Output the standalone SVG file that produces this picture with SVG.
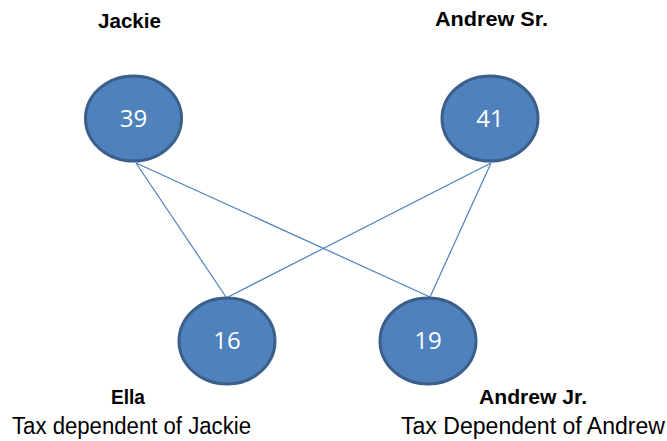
<svg xmlns="http://www.w3.org/2000/svg" width="667" height="441" viewBox="0 0 667 441">
<style>
.node{fill:#4F81BD;stroke:#3A5F8B;stroke-width:3}
.num{font-family:"Open Sans","Liberation Sans",sans-serif;font-size:24px;fill:#ffffff;text-anchor:middle}
.name{font-family:"Liberation Sans",Arial,sans-serif;font-weight:bold;font-size:21px;fill:#000}
.desc{font-family:"Liberation Sans",Arial,sans-serif;font-size:23px;fill:#000}
.conn{stroke:#4F81BD;stroke-width:1.2;fill:none}
</style>
<rect width="667" height="441" fill="#ffffff"/>
<g id="connectors">
<line class="conn" x1="136" y1="163" x2="226" y2="297"/>
<line class="conn" x1="136" y1="163" x2="430" y2="297"/>
<line class="conn" x1="491" y1="163" x2="228" y2="297"/>
<line class="conn" x1="491" y1="163" x2="430" y2="297"/>
</g>
<g id="jackie">
<ellipse class="node" cx="133.5" cy="118.5" rx="48" ry="42.5"/>
<text class="num" x="133.5" y="127">39</text>
<text class="name" x="98" y="28" textLength="63" lengthAdjust="spacingAndGlyphs">Jackie</text>
</g>
<g id="andrew-sr">
<ellipse class="node" cx="490" cy="118.5" rx="48" ry="42.5"/>
<text class="num" x="490" y="127">41</text>
<text class="name" x="435" y="26" textLength="113" lengthAdjust="spacingAndGlyphs">Andrew Sr.</text>
</g>
<g id="ella">
<ellipse class="node" cx="227" cy="341" rx="48" ry="43"/>
<text class="num" x="227" y="349">16</text>
<text class="name" x="111" y="404" textLength="34" lengthAdjust="spacingAndGlyphs">Ella</text>
<text class="desc" x="12" y="434" textLength="239" lengthAdjust="spacingAndGlyphs">Tax dependent of Jackie</text>
</g>
<g id="andrew-jr">
<ellipse class="node" cx="428" cy="341" rx="48" ry="43"/>
<text class="num" x="428" y="349">19</text>
<text class="name" x="479" y="404" textLength="108" lengthAdjust="spacingAndGlyphs">Andrew Jr.</text>
<text class="desc" x="401" y="434" textLength="264" lengthAdjust="spacingAndGlyphs">Tax Dependent of Andrew</text>
</g>
</svg>
